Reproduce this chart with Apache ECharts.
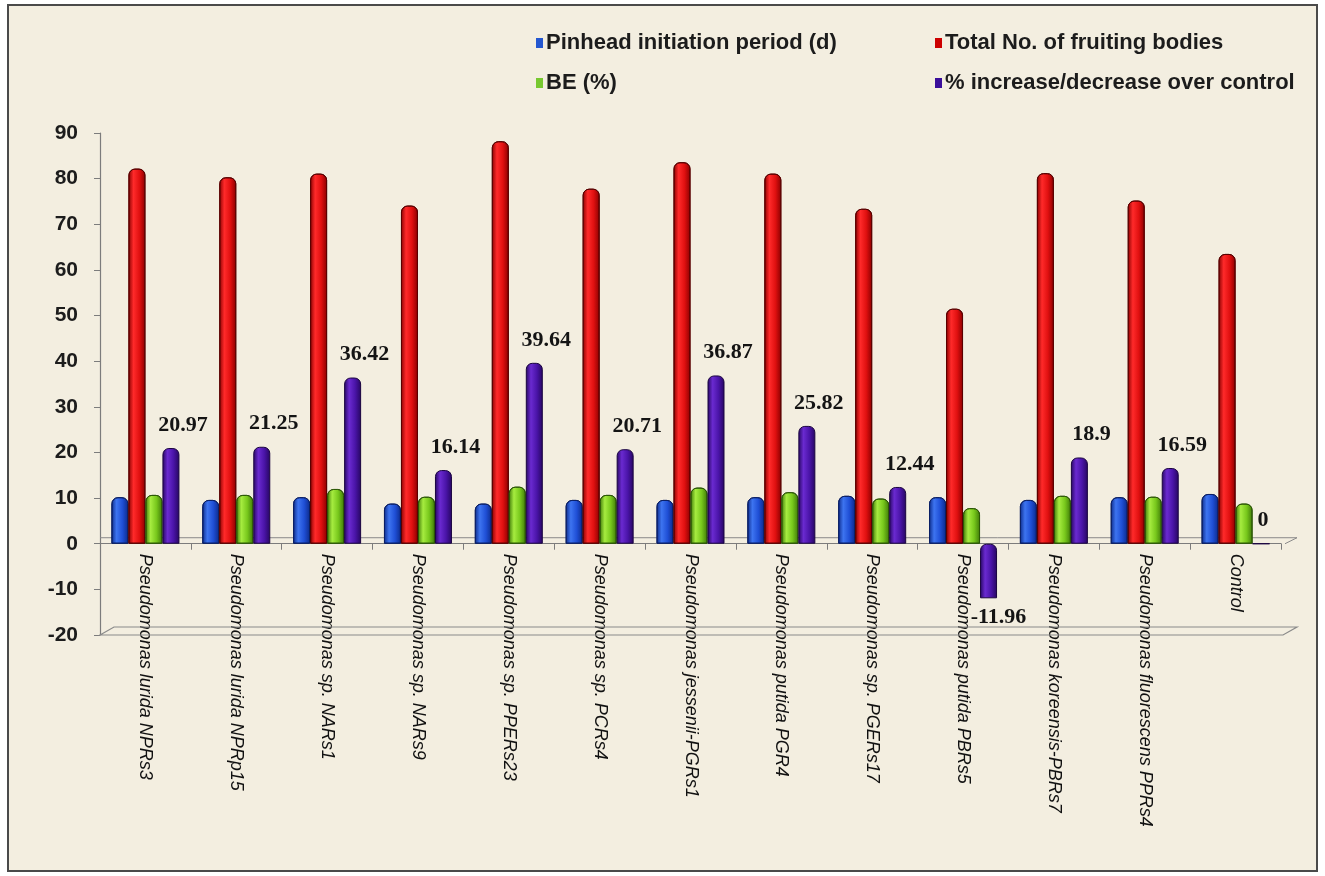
<!DOCTYPE html>
<html>
<head>
<meta charset="utf-8">
<script src="https://cdn.jsdelivr.net/npm/echarts@6/dist/echarts.min.js"></script>
<style>
  html, body { margin: 0; padding: 0; background: #ffffff; }
  #c { width: 1325px; height: 876px; }
</style>
</head>
<body>
<div id="c"></div>
<script>
// Bacterial strains tested, in plotting order
const categories = [
  'Pseudomonas lurida NPRs3',
  'Pseudomonas lurida NPRp15',
  'Pseudomonas sp. NARs1',
  'Pseudomonas sp. NARs9',
  'Pseudomonas sp. PPERs23',
  'Pseudomonas sp. PCRs4',
  'Pseudomonas jessenii-PGRs1',
  'Pseudomonas putida PGR4',
  'Pseudomonas sp. PGERs17',
  'Pseudomonas putida PBRs5',
  'Pseudomonas koreensis-PBRs7',
  'Pseudomonas fluorescens PPRs4',
  'Control'
];

const seriesNames = [
  'Pinhead initiation period (d)',
  'Total No. of fruiting bodies',
  'BE (%)',
  '% increase/decrease over control'
];

const pinheadDays = [10.2, 9.6, 10.2, 8.8, 8.8, 9.6, 9.6, 10.2, 10.5, 10.2, 9.6, 10.2, 10.9];
const fruitingBodies = [82.2, 80.3, 81.1, 74.1, 88.2, 77.8, 83.6, 81.1, 73.4, 51.5, 81.2, 75.2, 63.5];
const bePercent = [10.7, 10.7, 12.0, 10.3, 12.5, 10.7, 12.3, 11.3, 9.9, 7.8, 10.5, 10.3, 8.8];
const changeOverControl = [20.97, 21.25, 36.42, 16.14, 39.64, 20.71, 36.87, 25.82, 12.44, -11.96, 18.9, 16.59, 0];

const yTicks = { min: -20, max: 90, step: 10 };

const GRID = { left: 100, right: 44, top: 133, height: 502 };
const W = 1325, H = 876;

// cylinder-like shading across each bar
function cylinder(dark, light, mid) {
  return new echarts.graphic.LinearGradient(0, 0, 1, 0, [
    { offset: 0, color: dark },
    { offset: 0.3, color: light },
    { offset: 0.65, color: mid },
    { offset: 1, color: dark }
  ]);
}

const palette = [
  { fill: cylinder('#0c2a8a', '#3d74f0', '#1f4fd6'), edge: '#0a1f66', key: '#2457d0' },
  { fill: cylinder('#8a0000', '#ff2a2a', '#e01010'), edge: '#5a0000', key: '#cc0000' },
  { fill: cylinder('#3f7a08', '#a6ec40', '#78c81c'), edge: '#2c5806', key: '#77c830' },
  { fill: cylinder('#260660', '#6a2ad0', '#4a14a8'), edge: '#1a0440', key: '#3a0e9a' }
];

const chart = echarts.init(document.getElementById('c'));

function legendAt(name, idx, left, top) {
  return {
    data: [{ name: name, itemStyle: { color: palette[idx].key, borderWidth: 0 } }],
    left: left, top: top,
    icon: 'rect', itemWidth: 7, itemHeight: 10, itemGap: 0,
    selectedMode: false,
    textStyle: { fontFamily: 'Liberation Sans, Arial, sans-serif', fontWeight: 'bold', fontSize: 22, color: '#1c1c1c', padding: [0, 0, 0, -2] }
  };
}

const barBase = {
  type: 'bar',
  barWidth: 17,
  barGap: '0%',
  z: 3
};

const seriesValues = [pinheadDays, fruitingBodies, bePercent];

const series = seriesValues.map((vals, i) => Object.assign({}, barBase, {
  name: seriesNames[i],
  data: vals,
  itemStyle: { color: palette[i].fill, borderColor: palette[i].edge, borderWidth: 1, borderRadius: [6, 6, 0, 0] }
}));

function changeItem(v) {
  if (v < 0) return { value: v, label: { position: 'bottom', distance: 8, offset: [10, 0] } };
  if (v === 0) return { value: v, label: { offset: [2, 0] } };
  return v;
}

series.push(Object.assign({}, barBase, {
  name: seriesNames[3],
  data: changeOverControl.map(changeItem),
  itemStyle: { color: palette[3].fill, borderColor: palette[3].edge, borderWidth: 1, borderRadius: [6, 6, 0, 0] },
  label: {
    show: true,
    position: 'top',
    distance: 12,
    offset: [12, 0],
    formatter: p => String(p.value),
    fontFamily: 'Liberation Serif, "Times New Roman", serif',
    fontWeight: 'bold',
    fontSize: 22,
    color: '#141414'
  }
}));

// the category axis sits on the zero line, labels included
const zeroShift = -GRID.height * (0 - yTicks.min) / (yTicks.max - yTicks.min);

chart.setOption({
  animation: false,
  backgroundColor: '#ffffff',
  legend: [
    legendAt(seriesNames[0], 0, 531, 27),
    legendAt(seriesNames[1], 1, 930, 27),
    legendAt(seriesNames[2], 2, 531, 67),
    legendAt(seriesNames[3], 3, 930, 67)
  ],
  grid: { left: GRID.left, right: GRID.right, top: GRID.top, height: GRID.height },
  xAxis: {
    type: 'category',
    data: categories,
    offset: zeroShift,
    axisLine: { onZero: false, lineStyle: { color: '#7c7c7c', width: 1.2 } },
    axisTick: { show: true, length: 6, lineStyle: { color: '#7c7c7c' } },
    axisLabel: {
      rotate: -90,
      interval: 0,
      margin: 10,
      fontFamily: 'Liberation Sans, Arial, sans-serif',
      fontStyle: 'italic',
      fontSize: 18,
      color: '#111'
    }
  },
  yAxis: {
    type: 'value',
    min: yTicks.min,
    max: yTicks.max,
    interval: yTicks.step,
    splitLine: { show: false },
    axisLine: { show: true, lineStyle: { color: '#7c7c7c', width: 1.2 } },
    axisTick: { show: true, length: 6, lineStyle: { color: '#7c7c7c' } },
    axisLabel: {
      margin: 22,
      fontFamily: 'Liberation Sans, Arial, sans-serif',
      fontWeight: 'bold',
      fontSize: 21,
      color: '#1c1c1c'
    }
  },
  series: series
});

// frame, back-wall baseline and floor slab of the plot
const xL = GRID.left;
const xR = W - GRID.right;
const y0 = chart.convertToPixel({ yAxisIndex: 0 }, 0);
const yFloor = chart.convertToPixel({ yAxisIndex: 0 }, yTicks.min);
const depth = 8;

chart.setOption({
  graphic: [
    {
      type: 'rect', z: -10, silent: true,
      shape: { x: 8, y: 5, width: W - 16, height: H - 10 },
      style: { fill: '#f3eee0', stroke: '#4a4a4a', lineWidth: 2 }
    },
    {
      type: 'polyline', z: 1, silent: true,
      shape: { points: [[xL, y0 - depth + 2], [xR + 16, y0 - depth + 2], [xR + 4, y0]] },
      style: { stroke: '#8a8a8a', lineWidth: 1, fill: null }
    },
    {
      type: 'polygon', z: 1, silent: true,
      shape: { points: [[xL, yFloor], [xL + 14, yFloor - depth], [xR + 16, yFloor - depth], [xR + 2, yFloor]] },
      style: { stroke: '#8a8a8a', lineWidth: 1.2, fill: 'rgba(0,0,0,0)' }
    }
  ]
});
</script>
</body>
</html>
